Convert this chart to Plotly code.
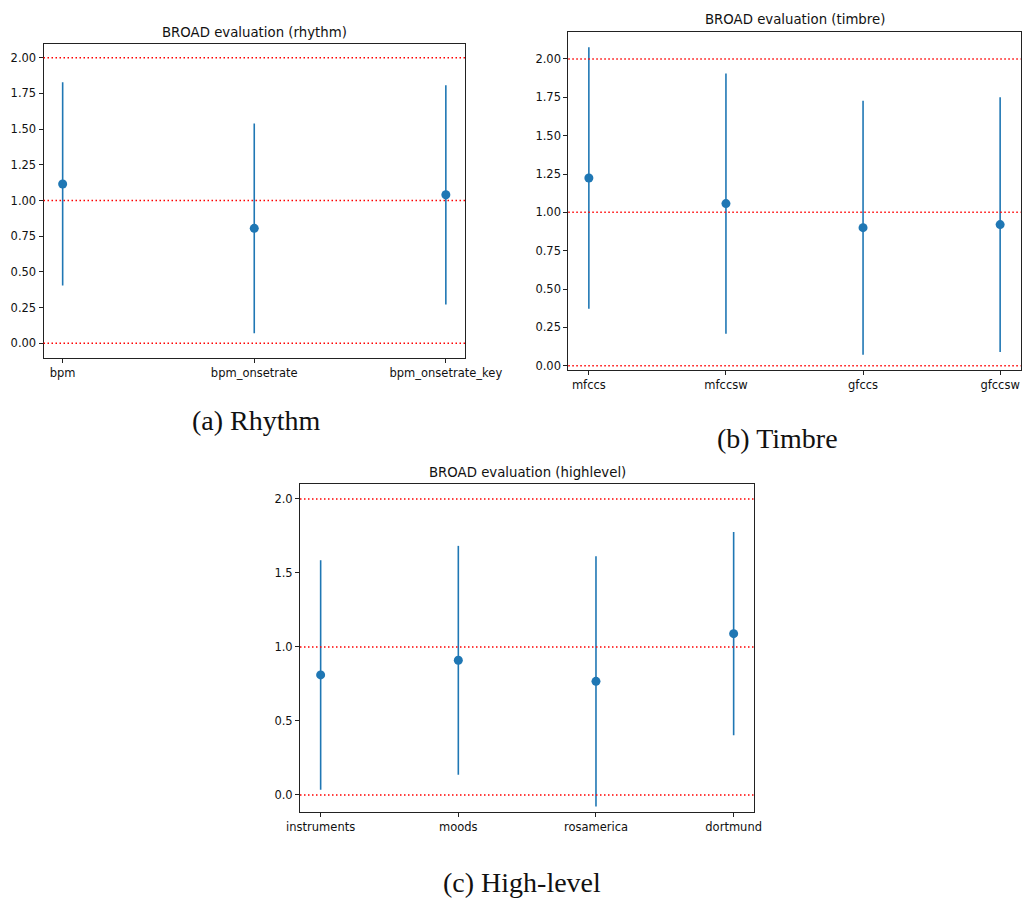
import plotly.graph_objects as go

W, H = 1022, 899

# ---- data ----
rhythm_cats = ["bpm", "bpm_onsetrate", "bpm_onsetrate_key"]
rhythm_mean = [1.116, 0.805, 1.040]
rhythm_err = [0.712, 0.735, 0.768]

timbre_cats = ["mfccs", "mfccsw", "gfccs", "gfccsw"]
timbre_mean = [1.224, 1.057, 0.900, 0.920]
timbre_err = [0.852, 0.848, 0.828, 0.830]

high_cats = ["instruments", "moods", "rosamerica", "dortmund"]
high_mean = [0.811, 0.910, 0.768, 1.090]
high_err = [0.775, 0.773, 0.845, 0.686]

ref_lines = [0, 1, 2]

titles = ["BROAD evaluation (rhythm)", "BROAD evaluation (timbre)", "BROAD evaluation (highlevel)"]
captions = ["(a) Rhythm", "(b) Timbre", "(c) High-level"]

BLUE = "#1f77b4"

# pixel boxes of plot areas: (left, top, right, bottom)
boxes = [(43.5, 44.3, 465, 358.3), (568.3, 32.3, 1020.7, 370), (300, 484.3, 754.3, 812.3)]
yranges = [[-0.105, 2.094], [-0.028, 2.174], [-0.117, 2.099]]
xranges = [[-0.1, 2.1], [-0.15, 3.15], [-0.15, 3.15]]
yticks = [[0, 0.25, 0.5, 0.75, 1, 1.25, 1.5, 1.75, 2]] * 2 + [[0, 0.5, 1, 1.5, 2]]
yfmt = [".2f", ".2f", ".1f"]
title_pos = [(254, 32.5), (794.5, 19.5), (527, 472)]
caption_pos = [(256.5, 420), (777, 438.5), (522, 882)]

fig = go.Figure()

series = [(rhythm_cats, rhythm_mean, rhythm_err),
          (timbre_cats, timbre_mean, timbre_err),
          (high_cats, high_mean, high_err)]

font_sans = "DejaVu Sans"
annotations = []
shapes = []
for i, (cats, mean, err) in enumerate(series):
    sfx = "" if i == 0 else str(i + 1)
    fig.add_trace(go.Scatter(
        x=cats, y=mean, mode="markers",
        marker=dict(color=BLUE, size=9),
        error_y=dict(type="data", array=err, visible=True, color=BLUE, thickness=1.6, width=0),
        xaxis="x" + sfx, yaxis="y" + sfx, showlegend=False, hoverinfo="x+y"))
    l, t, r, b = boxes[i]
    fig.layout["xaxis" + sfx] = dict(
        domain=[l / W, r / W], anchor="y" + sfx, type="category", range=xranges[i],
        showline=True, linecolor="#222", linewidth=1, mirror=True, automargin=False,
        ticks="outside", ticklen=4, tickcolor="#222", showgrid=False, zeroline=False,
        tickfont=dict(family=font_sans, size=11.5, color="#111"), fixedrange=True)
    fig.layout["yaxis" + sfx] = dict(
        domain=[1 - b / H, 1 - t / H], anchor="x" + sfx, range=yranges[i],
        tickvals=yticks[i], tickformat=yfmt[i], automargin=False,
        showline=True, linecolor="#222", linewidth=1, mirror=True,
        ticks="outside", ticklen=4, tickcolor="#222", showgrid=False, zeroline=False,
        tickfont=dict(family=font_sans, size=11.5, color="#111"), fixedrange=True)
    for v in ref_lines:
        shapes.append(dict(type="line", xref=("x" + sfx) + " domain", yref="y" + sfx,
                           x0=0, x1=1, y0=v, y1=v, layer="above",
                           line=dict(color="red", width=1.5, dash="1.5px,2.5px")))
    tx, ty = title_pos[i]
    annotations.append(dict(text=titles[i], x=tx / W, y=1 - ty / H, xref="paper", yref="paper",
                            showarrow=False, xanchor="center", yanchor="middle",
                            font=dict(family=font_sans, size=13.3, color="#111")))
    cx, cy = caption_pos[i]
    annotations.append(dict(text=captions[i], x=cx / W, y=1 - cy / H, xref="paper", yref="paper",
                            showarrow=False, xanchor="center", yanchor="middle", borderpad=0,
                            font=dict(family="Liberation Serif", size=28, color="#111")))

fig.update_layout(width=W, height=H, margin=dict(l=0, r=0, t=0, b=0, autoexpand=False),
                  paper_bgcolor="white", plot_bgcolor="white",
                  shapes=shapes, annotations=annotations, showlegend=False)

fig.write_html("out.html")
